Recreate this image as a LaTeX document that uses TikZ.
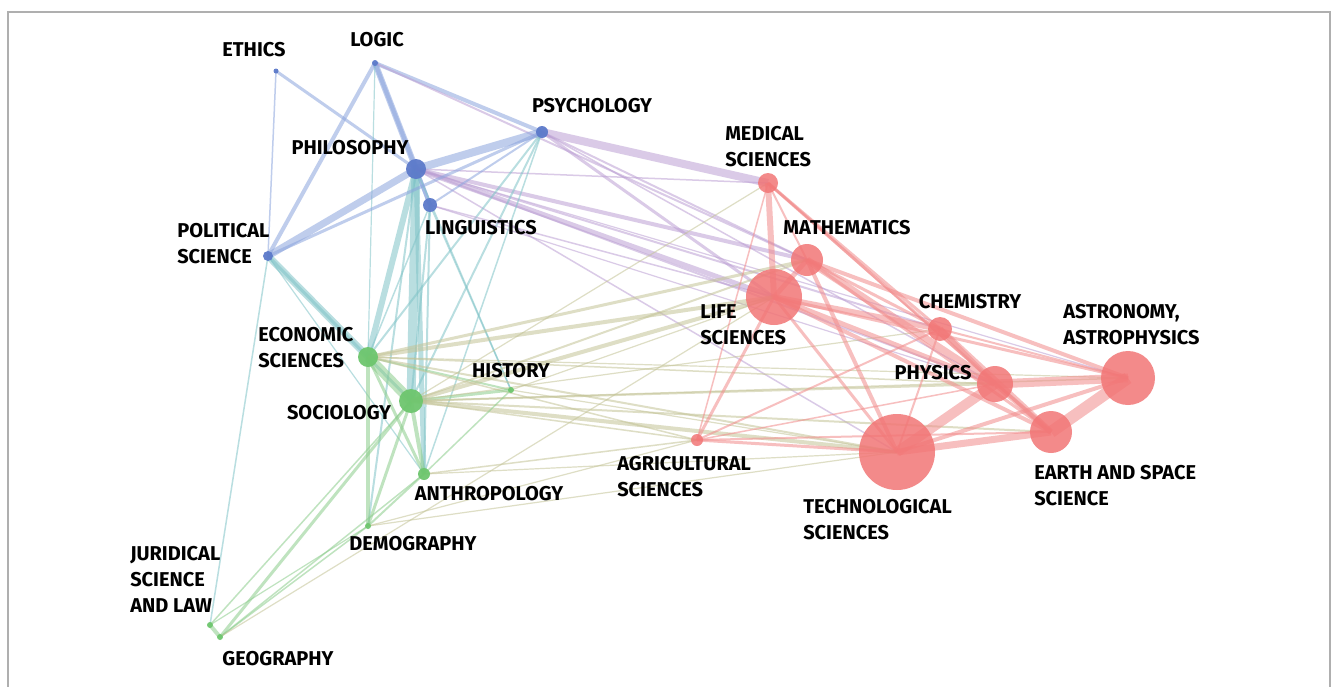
\documentclass[tikz,border=0pt]{standalone}
\usepackage{fontspec}
\setmainfont{Fira Sans}
\definecolor{blueN}{RGB}{92,122,202}
\definecolor{greenN}{RGB}{110,198,110}
\definecolor{redN}{RGB}{242,118,118}
\definecolor{ebb}{RGB}{140,165,222}
\definecolor{ebg}{RGB}{128,196,200}
\definecolor{ebr}{RGB}{188,160,212}
\definecolor{egg}{RGB}{140,205,140}
\definecolor{egr}{RGB}{195,195,150}
\definecolor{err}{RGB}{242,140,140}
\definecolor{frameC}{RGB}{175,175,175}
% edge from node #1 to node #2, width #3 (px), colour style #4
\newcommand\edg[4]{\draw[#4, line width=#3*0.75pt] (#1.center) -- (#2.center);}
\begin{document}
\begin{tikzpicture}[x=0.75pt,y=-0.75pt,
  bb/.style={draw=ebb, draw opacity=0.55},
  bg/.style={draw=ebg, draw opacity=0.55},
  br/.style={draw=ebr, draw opacity=0.55},
  gg/.style={draw=egg, draw opacity=0.55},
  gr/.style={draw=egr, draw opacity=0.55},
  rr/.style={draw=err, draw opacity=0.55},
  dot/.style={circle, inner sep=0pt, minimum size=#1*0.75pt},
  nb/.style={dot=#1, fill=blueN, fill opacity=0.95},
  ng/.style={dot=#1, fill=greenN, fill opacity=0.95},
  nr/.style={dot=#1, fill=redN, fill opacity=0.85},
  lab/.style={inner sep=0pt, text=black, font=\bfseries\fontsize{15}{19.5}\selectfont},
  labl/.style={lab, anchor=west, align=left}]
\useasboundingbox (0,0) rectangle (1336,686);
\fill[white] (0,0) rectangle (1336,686);
% outer frame
\draw[frameC, line width=1.5pt] (7.5,690) -- (7.5,12) -- (1330,12) -- (1330,690);

% ---------- node positions ----------
\coordinate (eth) at (276,71);
\coordinate (log) at (375,63);
\coordinate (psy) at (542,132);
\coordinate (phi) at (416,169);
\coordinate (lin) at (430,205);
\coordinate (pol) at (268,256);
\coordinate (med) at (768,183);
\coordinate (mat) at (807,260);
\coordinate (lif) at (774,297);
\coordinate (che) at (940,329);
\coordinate (ast) at (1128,378);
\coordinate (phy) at (995,384);
\coordinate (ear) at (1051,432);
\coordinate (tec) at (897,452);
\coordinate (agr) at (697,440);
\coordinate (eco) at (368,357);
\coordinate (soc) at (411,401);
\coordinate (his) at (511,390);
\coordinate (ant) at (424,474);
\coordinate (dem) at (368,526);
\coordinate (jur) at (210,625);
\coordinate (geo) at (220,637);

% ---------- edges: humanities / social ----------
\edg{eth}{phi}{3}{bb}
\edg{eth}{pol}{1.5}{bb}
\edg{log}{phi}{6}{bb}
\edg{log}{lin}{4}{bb}
\edg{log}{pol}{4}{bb}
\edg{log}{psy}{4}{bb}
\edg{log}{mat}{2}{br}
\edg{log}{eco}{1.2}{bg}
\edg{phi}{psy}{8}{bb}
\edg{phi}{pol}{7}{bb}
\edg{phi}{lin}{4}{bb}
\edg{phi}{soc}{9}{bg}
\edg{phi}{eco}{6}{bg}
\edg{phi}{ant}{5}{bg}
\edg{phi}{dem}{2}{bg}
\edg{phi}{his}{1.5}{bg}
\edg{phi}{lif}{5}{br}
\edg{phi}{mat}{4}{br}
\edg{phi}{phy}{2}{br}
\edg{phi}{che}{2}{br}
\edg{phi}{med}{1.5}{br}
\edg{phi}{ast}{1.2}{br}
\edg{phi}{tec}{1.5}{br}
\edg{psy}{med}{8}{br}
\edg{psy}{pol}{3}{bb}
\edg{psy}{lin}{2}{bb}
\edg{psy}{eco}{2}{bg}
\edg{psy}{soc}{2}{bg}
\edg{psy}{ant}{1.5}{bg}
\edg{psy}{lif}{3}{br}
\edg{psy}{mat}{2}{br}
\edg{psy}{phy}{1.5}{br}
\edg{lin}{soc}{2}{bg}
\edg{lin}{ant}{2}{bg}
\edg{lin}{his}{1.5}{bg}
\edg{lin}{eco}{1.5}{bg}
\edg{lin}{lif}{1.5}{br}
\edg{lin}{phy}{1.2}{br}
\edg{pol}{eco}{7}{bg}
\edg{pol}{soc}{3}{bg}
\edg{pol}{jur}{1.5}{bg}
\edg{pol}{ant}{1.2}{bg}
\edg{eco}{soc}{10}{gg}
\edg{eco}{dem}{4}{gg}
\edg{eco}{ant}{3}{gg}
\edg{eco}{his}{2}{gg}
\edg{eco}{lif}{4}{gr}
\edg{eco}{mat}{3}{gr}
\edg{eco}{agr}{1.5}{gr}
\edg{eco}{tec}{2}{gr}
\edg{eco}{phy}{1.5}{gr}
\edg{eco}{ast}{1.2}{gr}
\edg{soc}{ant}{4}{gg}
\edg{soc}{dem}{3}{gg}
\edg{soc}{his}{3}{gg}
\edg{soc}{geo}{3}{gg}
\edg{soc}{jur}{1.5}{gg}
\edg{soc}{lif}{4}{gr}
\edg{soc}{mat}{2}{gr}
\edg{soc}{tec}{4}{gr}
\edg{soc}{phy}{2}{gr}
\edg{soc}{ear}{2}{gr}
\edg{soc}{agr}{1.5}{gr}
\edg{soc}{med}{1.2}{gr}
\edg{soc}{ast}{1.5}{gr}
\edg{soc}{che}{1.2}{gr}
\edg{ant}{dem}{2}{gg}
\edg{ant}{his}{1.5}{gg}
\edg{ant}{geo}{1.5}{gg}
\edg{ant}{agr}{1.5}{gr}
\edg{ant}{tec}{1.2}{gr}
\edg{dem}{geo}{1.5}{gg}
\edg{dem}{jur}{1.2}{gg}
\edg{dem}{agr}{1.2}{gr}
\edg{dem}{tec}{1.2}{gr}
\edg{jur}{geo}{4}{gg}
\edg{geo}{lif}{1.2}{gr}
\edg{his}{tec}{1.2}{gr}
\edg{his}{lif}{1.2}{gr}

% ---------- edges: natural sciences ----------
\edg{med}{lif}{6}{rr}
\edg{med}{mat}{2}{rr}
\edg{med}{che}{3}{rr}
\edg{med}{agr}{1.5}{rr}
\edg{med}{phy}{2}{rr}
\edg{med}{ear}{3}{rr}
\edg{lif}{mat}{5}{rr}
\edg{lif}{che}{6}{rr}
\edg{lif}{phy}{5}{rr}
\edg{lif}{ear}{4}{rr}
\edg{lif}{tec}{3}{rr}
\edg{lif}{agr}{3}{rr}
\edg{lif}{ast}{3}{rr}
\edg{mat}{phy}{7}{rr}
\edg{mat}{tec}{4}{rr}
\edg{mat}{ast}{4}{rr}
\edg{mat}{che}{3}{rr}
\edg{mat}{ear}{3}{rr}
\edg{che}{phy}{5}{rr}
\edg{che}{tec}{2}{rr}
\edg{che}{ear}{6}{rr}
\edg{che}{agr}{2}{rr}
\edg{che}{ast}{2}{rr}
\edg{phy}{ast}{9}{rr}
\edg{phy}{tec}{10}{rr}
\edg{phy}{ear}{5}{rr}
\edg{ear}{ast}{12}{rr}
\edg{ear}{tec}{7}{rr}
\edg{tec}{ast}{4}{rr}
\edg{agr}{tec}{3}{rr}
\edg{agr}{ear}{2}{rr}
\edg{agr}{phy}{1.5}{rr}

% ---------- node discs (diameter in px) ----------
\node[nb=5]  (Neth) at (eth) {};
\node[nb=6]  (Nlog) at (log) {};
\node[nb=12] (Npsy) at (psy) {};
\node[nb=20] (Nphi) at (phi) {};
\node[nb=14] (Nlin) at (lin) {};
\node[nb=10] (Npol) at (pol) {};
\node[nr=20] (Nmed) at (med) {};
\node[nr=32] (Nmat) at (mat) {};
\node[nr=56] (Nlif) at (lif) {};
\node[nr=24] (Nche) at (che) {};
\node[nr=54] (Nast) at (ast) {};
\node[nr=36] (Nphy) at (phy) {};
\node[nr=42] (Near) at (ear) {};
\node[nr=76] (Ntec) at (tec) {};
\node[nr=12] (Nagr) at (agr) {};
\node[ng=20] (Neco) at (eco) {};
\node[ng=24] (Nsoc) at (soc) {};
\node[ng=6]  (Nhis) at (his) {};
\node[ng=12] (Nant) at (ant) {};
\node[ng=6]  (Ndem) at (dem) {};
\node[ng=6]  (Njur) at (jur) {};
\node[ng=6]  (Ngeo) at (geo) {};

% ---------- labels ----------
\node[lab] (Leth) at (254,50) {ETHICS};
\node[lab] (Llog) at (377,40) {LOGIC};
\node[lab] (Lpsy) at (592,106) {PSYCHOLOGY};
\node[lab] (Lphi) at (350,148) {PHILOSOPHY};
\node[lab] (Llin) at (481,228) {LINGUISTICS};
\node[labl] (Lpol) at (177,243.5) {POLITICAL\\SCIENCE};
\node[labl] (Lmed) at (725,147) {MEDICAL\\SCIENCES};
\node[lab] (Lmat) at (847,228) {MATHEMATICS};
\node[labl] (Llif) at (700,325) {LIFE\\SCIENCES};
\node[lab] (Lche) at (970,302) {CHEMISTRY};
\node[labl] (Last) at (1063,325) {ASTRONOMY,\\ASTROPHYSICS};
\node[lab] (Lphy) at (933,373) {PHYSICS};
\node[labl] (Lear) at (1034,485.5) {EARTH AND SPACE\\SCIENCE};
\node[labl] (Ltec) at (803,519.5) {TECHNOLOGICAL\\SCIENCES};
\node[labl] (Lagr) at (617,477) {AGRICULTURAL\\SCIENCES};
\node[labl] (Leco) at (258,348) {ECONOMIC\\SCIENCES};
\node[lab] (Lsoc) at (339,413) {SOCIOLOGY};
\node[lab] (Lhis) at (511,371) {HISTORY};
\node[lab] (Lant) at (489,494) {ANTHROPOLOGY};
\node[lab] (Ldem) at (413,544) {DEMOGRAPHY};
\node[labl] (Ljur) at (130,579) {JURIDICAL\\SCIENCE\\AND LAW};
\node[lab] (Lgeo) at (278,659) {GEOGRAPHY};
\end{tikzpicture}
\end{document}
